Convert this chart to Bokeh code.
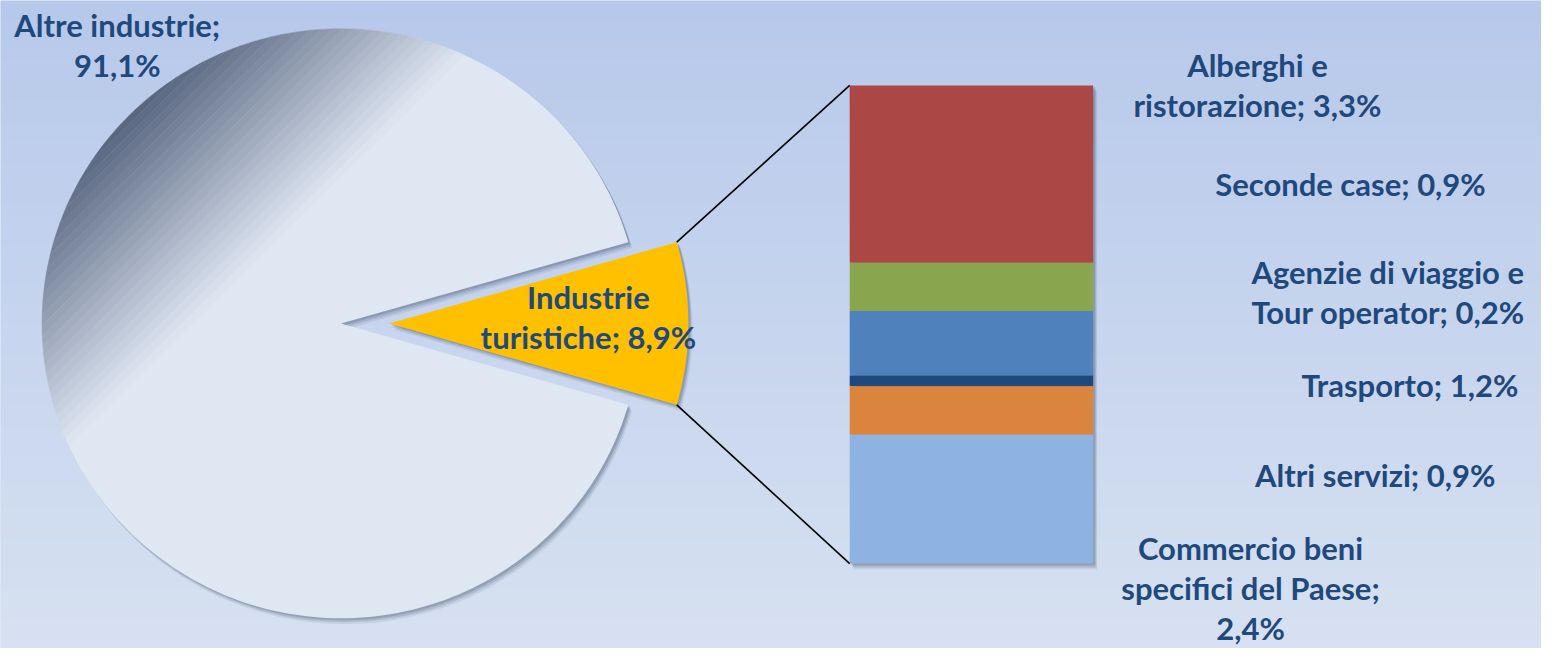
import numpy as np
from bokeh.plotting import figure
from bokeh.models import Range1d
from bokeh.core.properties import value
from bokeh.embed import file_html
from bokeh.resources import INLINE

# ---------------- data ----------------
pie_categories = ["Altre industrie", "Industrie turistiche"]
pie_values = [91.1, 8.9]
pie_colors = ["#DFE7F3", "#FFC000"]

bar_categories = ["Alberghi e ristorazione", "Seconde case", "Trasporto",
                  "Agenzie di viaggio e Tour operator", "Altri servizi",
                  "Commercio beni specifici del Paese"]
bar_values = [3.3, 0.9, 1.2, 0.2, 0.9, 2.4]
bar_colors = ["#AB4744", "#89A54E", "#4F81BD", "#1F497D", "#DB843D", "#8EB3E3"]

# ---------------- layout (reference pixel coordinates) ----------------
W, H = 1541, 648
RW, RH = 1557, 664
CX, CY, R = 344.0, 331.0, 302.0       # pie centre / radius
EXPLODE = 49.0                        # offset of the detached slice
BAR_L, BAR_R, BAR_T, BAR_B = 858.0, 1104.0, 87.0, 577.0
TXT = "#1F497D"
FONT = "Lato"
FS = "31px"
LINE_H = 41.0

# label placement: category -> (centre x, first line y, words per line)
label_layout = {
    "Altre industrie": (118, 25, [2, 1]),
    "Industrie turistiche": (594, 304, [1, 2]),
    "Alberghi e ristorazione": (1270, 66, [2, 2]),
    "Seconde case": (1364, 188, [3]),
    "Agenzie di viaggio e Tour operator": (1402, 278, [4, 3]),
    "Trasporto": (1424, 394, [2]),
    "Altri servizi": (1389, 486, [3]),
    "Commercio beni specifici del Paese": (1263, 561, [2, 3, 1]),
}

p = figure(width=W, height=H, x_range=Range1d(0, RW), y_range=Range1d(RH, 0),
           output_backend="svg", toolbar_location=None, min_border=0,
           x_axis_type=None, y_axis_type=None)
p.grid.visible = False
p.outline_line_color = None
p.background_fill_color = "#C6D4EE"
p.border_fill_color = "#C6D4EE"

# ---- background vertical gradient ----
top_c = np.array([183, 201, 235])
bot_c = np.array([215, 225, 241])
nb = 64
edges = np.linspace(0, RH, nb + 1)
cols = []
for i in range(nb):
    t = i / (nb - 1)
    c = (top_c + t * (bot_c - top_c)).astype(int)
    cols.append("#%02x%02x%02x" % tuple(c))
p.quad(left=0, right=RW, top=edges[:-1], bottom=edges[1:] + 0.5,
       fill_color=cols, line_color=None)


def pt(cx, cy, r, deg):
    a = np.deg2rad(deg)
    return cx + r * np.cos(a), cy - r * np.sin(a)


def wedge_poly(cx, cy, r, a0, a1, n=240):
    ang = np.linspace(a0, a1, n)
    xs = [cx] + list(cx + r * np.cos(np.deg2rad(ang)))
    ys = [cy] + list(cy - r * np.sin(np.deg2rad(ang)))
    return np.array(xs), np.array(ys)


def clip(poly, nx, ny, c):
    out = []
    n = len(poly)
    for i in range(n):
        P = poly[i]
        Q = poly[(i + 1) % n]
        dp = nx * P[0] + ny * P[1] - c
        dq = nx * Q[0] + ny * Q[1] - c
        if dp <= 0:
            out.append(P)
        if dp * dq < 0:
            t = dp / (dp - dq)
            out.append((P[0] + t * (Q[0] - P[0]), P[1] + t * (Q[1] - P[1])))
    return out


# ---- pie angles from data ----
total = sum(pie_values)
half = pie_values[1] / total * 360.0 / 2.0
big_a0, big_a1 = half, 360.0 - half
small_cx = CX + EXPLODE

bx, by = wedge_poly(CX, CY, R, big_a0, big_a1)
sx, sy = wedge_poly(small_cx, CY, R, -half, half, 80)

# bar segments from data
scale = (BAR_B - BAR_T) / sum(bar_values)
tops, bots = [], []
y = BAR_T
for v in bar_values:
    tops.append(y)
    y += v * scale
    bots.append(y)

# ---- shadows ----
for dx, dy, al in [(4, 6, 0.10), (3, 4, 0.16), (2, 2, 0.22)]:
    p.patch(bx + dx, by + dy, fill_color="#3a4a66", fill_alpha=al, line_color=None)
    p.patch(sx + dx, sy + dy, fill_color="#3a4a66", fill_alpha=al, line_color=None)
    p.quad(left=BAR_L + dx, right=BAR_R + dx, top=BAR_T + dy, bottom=BAR_B + dy,
           fill_color="#3a4a66", fill_alpha=al, line_color=None)

# ---- big slice with gradient ----
p.patch(bx, by, fill_color=pie_colors[0], line_color=None)
circle = [(CX + R * np.cos(a), CY - R * np.sin(a)) for a in np.linspace(0, 2 * np.pi, 400)]
s0 = CX + CY - R * np.sqrt(2)
s1 = 525.0
dark = np.array([88, 102, 128])
light = np.array([223, 231, 243])
nband = 26
bands_x, bands_y, bands_c = [], [], []
bedges = np.linspace(s0 - 2, s1, nband + 1)
for i in range(nband):
    poly = clip(circle, 1, 1, bedges[i + 1])
    poly = clip(poly, -1, -1, -bedges[i])
    if len(poly) < 3:
        continue
    t = (0.5 * (bedges[i] + bedges[i + 1]) - s0) / (s1 - s0)
    t = min(max(t, 0), 1)
    c = (dark + t * (light - dark)).astype(int)
    bands_x.append([q[0] for q in poly])
    bands_y.append([q[1] for q in poly])
    bands_c.append("#%02x%02x%02x" % tuple(c))
p.patches(bands_x, bands_y, fill_color=bands_c, line_color=bands_c, line_width=0.6)

# ---- detached slice ----
p.patch(sx, sy, fill_color=pie_colors[1], line_color=None)

# ---- bar ----
p.quad(left=BAR_L, right=BAR_R, top=tops, bottom=bots, fill_color=bar_colors, line_color=None)

# ---- connector lines ----
ux, uy = pt(small_cx, CY, R, half)
lx, ly = pt(small_cx, CY, R, -half)
p.segment(x0=[ux, lx], y0=[uy, ly], x1=[BAR_L, BAR_L], y1=[BAR_T, BAR_B],
          line_color="black", line_width=1.6)


# ---- labels ----
def fmt(v):
    return ("%.1f" % v).replace(".", ",") + "%"


def add_label(cat, v):
    x, y0, split = label_layout[cat]
    words = (cat + "; " + fmt(v)).split(" ")
    k = 0
    xs, ys, tx = [], [], []
    for j, n in enumerate(split):
        tx.append(" ".join(words[k:k + n]))
        k += n
        xs.append(x)
        ys.append(y0 + j * LINE_H)
    p.text(x=xs, y=ys, text=tx, text_font=value(FONT), text_font_style="bold",
           text_font_size=FS, text_color=TXT, text_align="center", text_baseline="middle")


for c, v in zip(pie_categories, pie_values):
    add_label(c, v)
for c, v in zip(bar_categories, bar_values):
    add_label(c, v)

open("out.html", "w").write(file_html(p, INLINE))
